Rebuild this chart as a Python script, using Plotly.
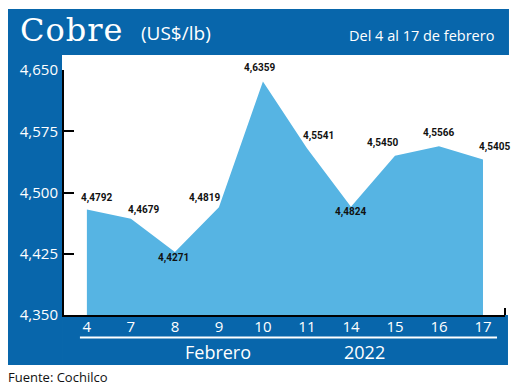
import plotly.graph_objects as go

# ---- data ----
dias = ["4", "7", "8", "9", "10", "11", "14", "15", "16", "17"]
precios = [4.4792, 4.4679, 4.4271, 4.4819, 4.6359, 4.5541, 4.4824, 4.5450, 4.5566, 4.5405]
y_ticks = [4.350, 4.425, 4.500, 4.575, 4.650]
y_tick_text = ["4,350", "4,425", "4,500", "4,575", "4,650"]
titulo = "Cobre"
unidad = "(US$/lb)"
periodo = "Del 4 al 17 de febrero"
mes = "Febrero"
anio = "2022"
fuente = "Fuente: Cochilco"

# label offsets (style, px)
lab_dx = [10, 13, -1, -14, -3, 12, 0, -12, 0, 12]
lab_dy = [11, 9, -6, 9, 14, 12, -5, 13, 13, 12]

BLUE = "#0866ab"
FILL = "#56b4e3"
OFF = 8  # page body margin
W, H = 520 - OFF, 387 - OFF
L, R, T, B = 62 - OFF, 505 - OFF, 70 - OFF, 315 - OFF  # plot area pixel box


def px(x):
    return (x - OFF - L) / (R - L)


def py(y):
    return (B - (y - OFF)) / (B - T)


xs = list(range(len(dias)))

fig = go.Figure()
fig.add_trace(go.Scatter(
    x=xs, y=precios, mode="lines", line=dict(width=0, color=FILL),
    fill="tozeroy", fillcolor=FILL, hoverinfo="skip", showlegend=False,
))

annotations = []
for i, v in enumerate(precios):
    annotations.append(dict(
        x=xs[i], y=v, xref="x", yref="y", text=f"{v:.4f}".replace(".", ","),
        showarrow=False, xshift=lab_dx[i], yshift=lab_dy[i],
        font=dict(family="Roboto", size=10, color="#111", weight="bold"),
    ))

annotations += [
    dict(x=px(16), y=py(30), xref="paper", yref="paper", xanchor="left", yanchor="middle",
         text=f'<span style="letter-spacing:1px">{titulo}</span>', showarrow=False,
         font=dict(family="DejaVu Serif", size=32, color="white")),
    dict(x=px(137), y=py(33), xref="paper", yref="paper", xanchor="left", yanchor="middle",
         text=unidad, showarrow=False,
         font=dict(family="Open Sans", size=19, color="white")),
    dict(x=px(496), y=py(36), xref="paper", yref="paper", xanchor="right", yanchor="middle",
         text=periodo, showarrow=False,
         font=dict(family="Open Sans", size=14.5, color="white")),
    dict(x=px(217), y=py(352), xref="paper", yref="paper", xanchor="center", yanchor="middle",
         text=mes, showarrow=False,
         font=dict(family="Open Sans", size=18, color="white")),
    dict(x=px(364), y=py(352), xref="paper", yref="paper", xanchor="center", yanchor="middle",
         text=anio, showarrow=False,
         font=dict(family="Open Sans", size=18, color="white")),
    dict(x=px(4), y=py(377), xref="paper", yref="paper", xanchor="left", yanchor="middle",
         text=fuente, showarrow=False,
         font=dict(family="Open Sans", size=13, color="#111")),
]

shapes = [
    dict(type="rect", xref="paper", yref="paper", x0=px(4), x1=px(509), y0=py(9), y1=py(55),
         fillcolor=BLUE, line=dict(width=0), layer="below"),
    dict(type="rect", xref="paper", yref="paper", x0=px(4), x1=px(60), y0=py(55), y1=py(365),
         fillcolor=BLUE, line=dict(width=0), layer="below"),
    dict(type="rect", xref="paper", yref="paper", x0=px(60), x1=px(508), y0=py(315), y1=py(365),
         fillcolor=BLUE, line=dict(width=0), layer="below"),
    dict(type="line", xref="paper", yref="paper", x0=px(78), x1=px(497), y0=py(337.5), y1=py(337.5),
         line=dict(color="white", width=2)),
    dict(type="line", xref="paper", yref="paper", x0=px(505), x1=px(505), y0=py(308), y1=py(315),
         line=dict(color="black", width=2)),
]

fig.update_layout(
    width=W, height=H,
    margin=dict(l=L, r=W - R, t=T, b=H - B, pad=0),
    paper_bgcolor="white", plot_bgcolor="rgba(0,0,0,0)",
    showlegend=False,
    annotations=annotations, shapes=shapes,
    xaxis=dict(
        range=[-0.52, 9.5], tickvals=xs, ticktext=dias, showgrid=False, zeroline=False,
        showline=True, linecolor="black", linewidth=2, ticks="",
        ticklabelstandoff=-3,
        tickfont=dict(family="Open Sans", size=15, color="white"),
    ),
    yaxis=dict(
        range=[4.35, 4.65], tickvals=y_ticks, ticktext=y_tick_text, showgrid=False, zeroline=False,
        showline=True, linecolor="black", linewidth=2, ticks="inside", ticklen=10, tickwidth=2,
        tickcolor="black", ticklabelstandoff=1,
        tickfont=dict(family="Open Sans", size=15, color="white"),
    ),
)

fig.write_html("out.html")
